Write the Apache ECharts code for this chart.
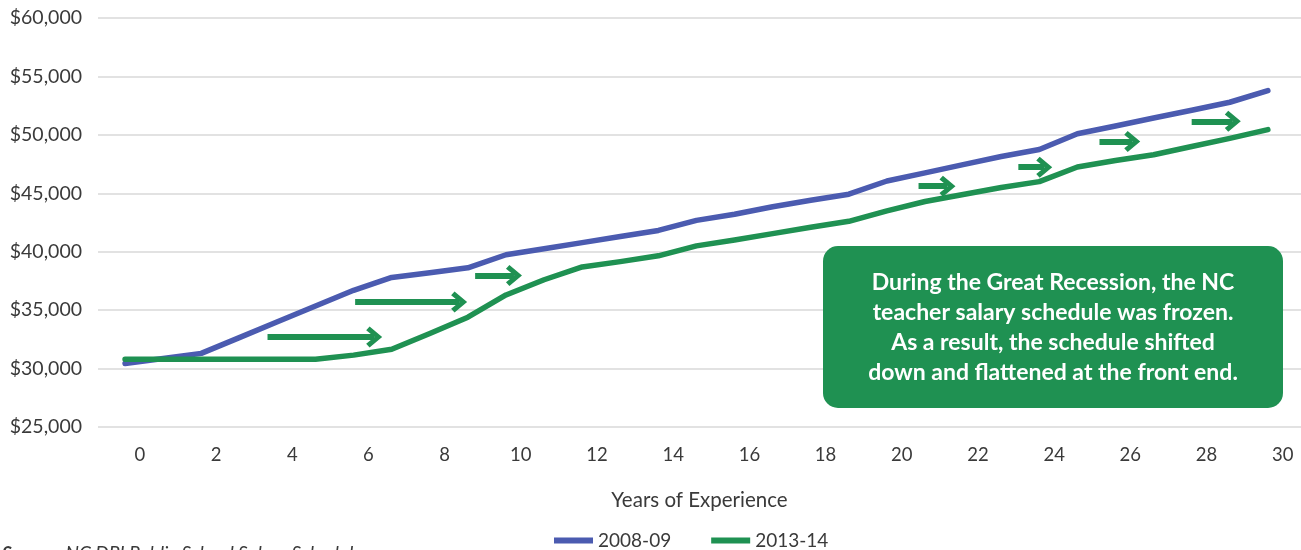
<!DOCTYPE html>
<html>
<head>
<meta charset="utf-8">
<script src="https://cdn.jsdelivr.net/npm/echarts@6/dist/echarts.min.js"></script>
<style>
    html, body { margin: 0; padding: 0; background: #fff; }
    #chart { width: 1301px; height: 550px; }
</style>
</head>
<body>
<div id="chart"></div>
<script>
// years of experience, one point per year
const years = [0, 1, 2, 3, 4, 5, 6, 7, 8, 9, 10, 11, 12, 13, 14, 15, 16, 17, 18, 19, 20, 21, 22, 23, 24, 25, 26, 27, 28, 29, 30];

const salary2008 = [30430, 30870, 31300, 32650, 34000, 35350, 36700, 37800, 38200, 38620, 39740, 40250, 40780, 41300, 41820, 42680, 43200, 43850, 44400, 44920, 46050, 46750, 47450, 48150, 48750, 50090, 50760, 51440, 52110, 52790, 53790];
const salary2013 = [30800, 30800, 30800, 30800, 30800, 30800, 31150, 31650, 33000, 34400, 36300, 37600, 38700, 39150, 39650, 40500, 41000, 41550, 42100, 42600, 43500, 44300, 44900, 45500, 46000, 47250, 47800, 48300, 49000, 49700, 50450];

const seriesNames = ['2008-09', '2013-14'];
const xTickLabels = [0, 2, 4, 6, 8, 10, 12, 14, 16, 18, 20, 22, 24, 26, 28, 30];

// shift arrows (start year, end year, salary level)
const arrowFrom = [3.74, 6.04, 9.19, 20.83, 23.45, 25.58, 28.0];
const arrowTo = [6.54, 8.77, 10.21, 21.59, 24.13, 26.44, 29.08];
const arrowAt = [32700, 35690, 37970, 45610, 47230, 49430, 51160];

const noteLines = [
    'During the Great Recession, the NC',
    'teacher salary schedule was frozen.',
    'As a result, the schedule shifted',
    'down and flattened at the front end.'
];

const blue = '#4b5bb0';
const green = '#1f9152';
const textColor = '#3a3a3a';
const gridColor = '#d9d9d9';
const font = 'Lato, "Noto Sans", sans-serif';
// open chevron pointing up, markLine turns it along the line
const chevron = 'path://M5,0 L10,6.6 L8.2,8.4 L5,4 L1.8,8.4 L0,6.6 Z';

function toPoints(values) {
    return years.map((y, i) => [y, values[i]]);
}

function money(v) {
    return '$' + v.toLocaleString('en-US');
}

const arrowLines = arrowFrom.map((x, i) => [
    { coord: [x, arrowAt[i]] },
    { coord: [arrowTo[i], arrowAt[i]] }
]);

const chart = echarts.init(document.getElementById('chart'));

chart.setOption({
    backgroundColor: '#fff',
    animation: false,
    textStyle: { fontFamily: font },

    legend: {
        data: seriesNames,
        left: 549,
        top: 526,
        icon: 'rect',
        itemWidth: 39,
        itemHeight: 6,
        itemGap: 40,
        textStyle: { color: textColor, fontSize: 19, fontFamily: font }
    },

    grid: { left: 98, right: 0, top: 18, bottom: 123 },

    xAxis: [
        {
            // data axis (hidden)
            type: 'value',
            min: -0.71,
            max: 30.87,
            show: false
        },
        {
            // label axis, labels sit a little right of the points like the original
            type: 'value',
            min: -1.1,
            max: 30.48,
            position: 'bottom',
            axisLine: { show: false },
            axisTick: { show: false },
            splitLine: { show: false },
            axisLabel: {
                customValues: xTickLabels,
                color: textColor,
                fontSize: 18.5,
                margin: 19,
                fontFamily: font
            },
            name: 'Years of Experience',
            nameLocation: 'middle',
            nameGap: 63,
            nameTextStyle: { color: textColor, fontSize: 20.5, fontFamily: font }
        }
    ],

    yAxis: {
        type: 'value',
        min: 25000,
        max: 60000,
        interval: 5000,
        axisLine: { show: false },
        axisTick: { show: false },
        splitLine: { lineStyle: { color: gridColor, width: 1.5 } },
        axisLabel: {
            color: textColor,
            fontSize: 19.5,
            margin: 16,
            fontFamily: font,
            formatter: money
        }
    },

    series: [
        {
            name: seriesNames[0],
            type: 'line',
            xAxisIndex: 0,
            symbol: 'none',
            color: blue,
            lineStyle: { width: 5.5, color: blue, cap: 'round', join: 'round' },
            data: toPoints(salary2008)
        },
        {
            name: seriesNames[1],
            type: 'line',
            xAxisIndex: 0,
            symbol: 'none',
            color: green,
            lineStyle: { width: 5.5, color: green, cap: 'round', join: 'round' },
            data: toPoints(salary2013),
            markLine: {
                silent: true,
                symbol: ['none', chevron],
                symbolSize: [21, 16],
                label: { show: false },
                lineStyle: { color: green, width: 6, type: 'solid' },
                itemStyle: { color: green },
                emphasis: { disabled: true },
                data: arrowLines
            }
        }
    ],

    graphic: [
        {
            type: 'group',
            left: 823,
            top: 246,
            children: [
                {
                    type: 'rect',
                    z: 100,
                    shape: { x: 0, y: 0, width: 460, height: 162, r: 15 },
                    style: { fill: green }
                },
                {
                    type: 'text',
                    z: 101,
                    x: 230,
                    y: 82,
                    style: {
                        text: noteLines.join('\n'),
                        fill: '#fff',
                        fontFamily: font,
                        fontWeight: 'bold',
                        fontSize: 23,
                        lineHeight: 30,
                        align: 'center',
                        verticalAlign: 'middle'
                    }
                }
            ]
        },
        {
            type: 'text',
            left: 2,
            top: 544,
            style: {
                text: '{b|Source:} NC DPI Public School Salary Schedules',
                fill: textColor,
                fontFamily: font,
                fontStyle: 'italic',
                fontSize: 19,
                rich: {
                    b: { fontFamily: font, fontStyle: 'italic', fontWeight: 'bold', fontSize: 19, fill: textColor }
                }
            }
        }
    ]
});
</script>
</body>
</html>
